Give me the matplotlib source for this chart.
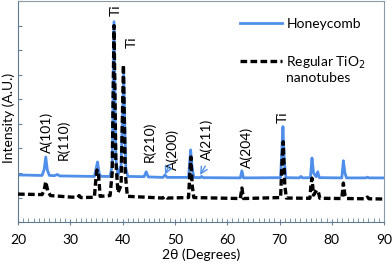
import matplotlib
matplotlib.use('Agg')
import matplotlib.pyplot as plt
from matplotlib.ticker import MultipleLocator

plt.rcParams['font.family'] = ['Lato', 'DejaVu Sans']

# Honeycomb (blue) - vertices
hc_x = [20, 24.6, 25.0, 25.3, 25.6, 26.0, 27.0, 27.5, 28.0, 34.6, 35.0, 35.2, 35.5, 35.8,
        37.6, 38.0, 38.35, 38.7, 39.1, 39.7, 40.2, 40.6, 41.0, 44.1, 44.5, 44.9,
        47.7, 48.1, 48.5, 52.6, 52.8, 53.0, 53.3, 53.6, 54.8, 55.1, 55.4,
        62.5, 62.8, 63.1, 70.2, 70.45, 70.65, 70.9, 71.2, 73.8, 74.1, 74.4,
        75.9, 76.2, 76.5, 77.0, 77.3, 77.6, 81.9, 82.2, 82.5, 82.8, 86.5, 86.8, 87.1, 90]
hc_y = [192, 190, 215, 265, 212, 190, 189, 194, 188, 186, 225, 245, 200, 186,
        186, 230, 816, 260, 190, 230, 600, 220, 186, 185, 205, 184,
        182, 192, 182, 182, 240, 294, 220, 182, 181, 186, 181,
        180, 209, 180, 181, 300, 389, 250, 181, 180, 186, 180,
        181, 261, 200, 185, 205, 181, 180, 250, 200, 180, 180, 183, 180, 180]

# Regular TiO2 nanotubes (black dashed)
nt_x = [20, 24.6, 25.0, 25.3, 25.7, 26.2, 30, 31.4, 31.7, 32.0, 34.6, 34.9, 35.1, 35.4, 35.7,
        37.6, 38.0, 38.35, 38.7, 39.1, 39.7, 40.15, 40.5, 40.9, 47.7, 48.1, 48.5,
        52.6, 52.85, 53.05, 53.3, 53.6, 62.5, 62.8, 63.1, 70.2, 70.5, 70.7, 71.0, 71.3,
        75.8, 76.0, 76.2, 76.5, 76.8, 77.1, 77.4, 77.7, 81.9, 82.2, 82.5, 82.8,
        86.5, 86.8, 87.1, 90]
nt_y = [114, 112, 130, 165, 125, 108, 102, 101, 108, 100, 101, 180, 212, 190, 105,
        108, 200, 800, 250, 120, 150, 640, 200, 105, 98, 105, 98,
        100, 200, 265, 150, 100, 96, 139, 96, 100, 260, 327, 150, 98,
        97, 150, 179, 110, 120, 130, 125, 97, 96, 159, 110, 96,
        95, 102, 95, 94]

# peak labels: 2theta, intensity at the text bottom, text
lab_x = [25.5, 28.6, 38.6, 41.7, 45.2, 49.6, 56.1, 63.8, 70.7]
lab_y = [280, 253, 840, 710, 245, 212, 253, 220, 404]
lab_t = ['A(101)', 'R(110)', 'Ti', 'Ti', 'R(210)', 'A(200)', 'A(211)', 'A(204)', 'Ti']

# blue arrows: tail and head
arr_from_x = [49.0, 55.8]
arr_from_y = [235, 228]
arr_to_x = [48.1, 54.8]
arr_to_y = [194, 192]

fig = plt.figure(figsize=(3.92, 2.66), dpi=100)
ax = fig.add_axes([0.046, 0.165, 0.934, 0.831])

ax.plot(hc_x, hc_y, color='#4F8FEA', lw=2.0, label='Honeycomb', zorder=2)
ax.plot(nt_x, nt_y, color='black', lw=2.4, linestyle=(0, (2, 1)),
        label='Regular TiO$_2$', zorder=3)

for x, y, t in zip(lab_x, lab_y, lab_t):
    ax.text(x, y, t, rotation=90, ha='center', va='bottom', fontsize=10, color='black')

for x0, y0, x1, y1 in zip(arr_from_x, arr_from_y, arr_to_x, arr_to_y):
    ax.annotate('', xy=(x1, y1), xytext=(x0, y0),
                arrowprops=dict(arrowstyle='->', color='#4F8FEA', lw=1.0,
                                mutation_scale=12, shrinkA=0, shrinkB=0))

ax.set_xlim(20, 90)
ax.set_ylim(0, 900)
ax.xaxis.set_major_locator(MultipleLocator(10))
ax.xaxis.set_minor_locator(MultipleLocator(1))
ax.yaxis.set_major_locator(MultipleLocator(100))
ax.set_yticklabels([])
ax.tick_params(axis='x', which='major', direction='inout', length=5, color='#6C8396',
               labelsize=10, pad=6)
ax.tick_params(axis='x', which='minor', direction='in', length=3, color='#6C8396')
ax.tick_params(axis='y', which='major', direction='in', length=3, color='#6C8396')
for s in ax.spines.values():
    s.set_color('#8A9AA8')
    s.set_linewidth(0.8)
ax.spines['left'].set_color('#5F7A8E')
ax.spines['bottom'].set_color('#5F7A8E')

fig.text(8.5 / 392, 1 - 118 / 266, 'Intensity (A.U.)', fontsize=10, rotation=90,
         ha='center', va='center')
ax.set_xlabel('2θ (Degrees)', fontsize=10, labelpad=2)

leg = ax.legend(loc='upper left', bbox_to_anchor=(0.60, 0.936), frameon=False, fontsize=10,
                handlelength=3.0, handletextpad=0.3, labelspacing=1.75,
                borderaxespad=0.0, borderpad=0.2)
fig.text(286 / 392, 1 - 78 / 266, 'nanotubes', fontsize=10, ha='left', va='center')

fig.savefig('out.png', dpi=100)
